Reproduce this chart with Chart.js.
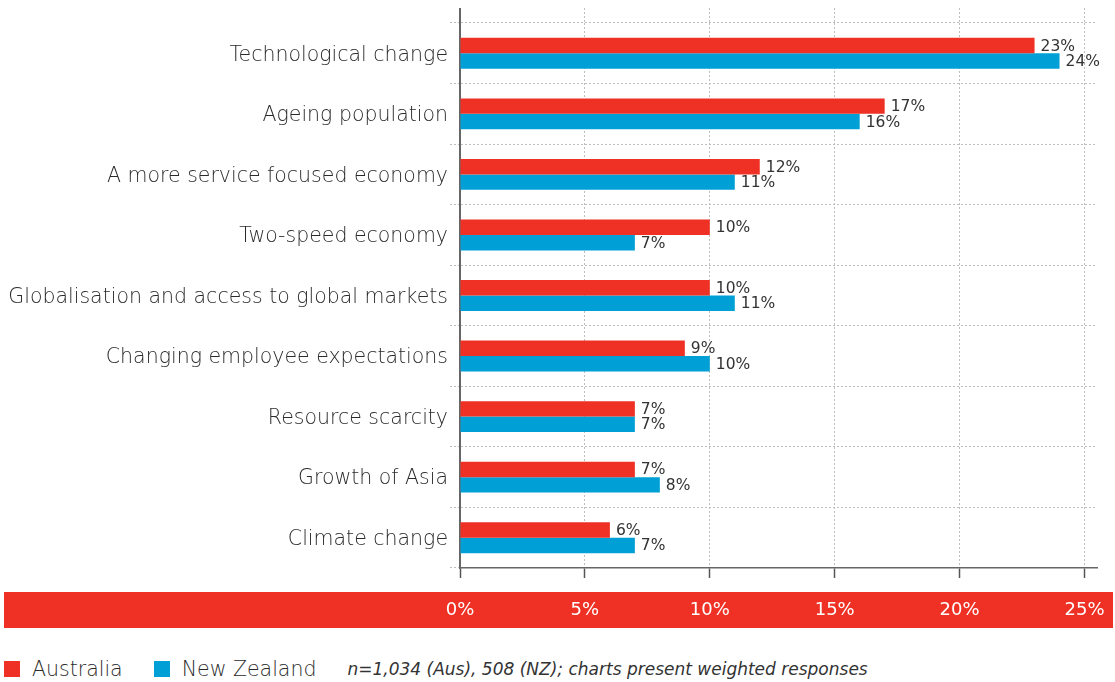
<!DOCTYPE html>
<html>
<head>
<meta charset="utf-8">
<title>Drivers of change</title>
<script src="https://cdn.jsdelivr.net/npm/chart.js@4.4.1/dist/chart.umd.min.js"></script>
<style>
  html, body { margin: 0; padding: 0; background: #fff; }
  #wrap { position: relative; width: 1115px; height: 682px; }
  #legend {
    position: absolute; left: 4px; top: 657px; height: 24px;
    display: flex; align-items: center;
    font-family: "DejaVu Sans", sans-serif; font-weight: 200; font-size: 20.5px; color: #2a2a2a;
  }
  #legend .item { display: flex; align-items: center; margin-right: 31px; }
  #legend .swatch { width: 16px; height: 16px; margin-right: 12px; }
  #legend .note { font-size: 17px; font-style: italic; color: #333; }
</style>
</head>
<body>
<div id="wrap">
  <canvas id="driversChart" width="1115" height="640"></canvas>
  <div id="legend"></div>
</div>
<script>
const categories = [
  'Technological change',
  'Ageing population',
  'A more service focused economy',
  'Two-speed economy',
  'Globalisation and access to global markets',
  'Changing employee expectations',
  'Resource scarcity',
  'Growth of Asia',
  'Climate change'
];
const australia = [23, 17, 12, 10, 10, 9, 7, 7, 6];
const newZealand = [24, 16, 11, 7, 11, 10, 7, 8, 7];
const seriesNames = ['Australia', 'New Zealand'];
const tickValues = [0, 5, 10, 15, 20, 25];
const footnote = 'n=1,034 (Aus), 508 (NZ); charts present weighted responses';

const FONT = '"DejaVu Sans", sans-serif';
const RED = '#ee3124';
const BLUE = '#00a0d6';
const GRID = '#bdbdbd';

// red strip behind the percentage labels
const tickBand = {
  id: 'tickBand',
  beforeDraw(chart) {
    const ctx = chart.ctx;
    const x = chart.scales.x;
    ctx.save();
    ctx.fillStyle = RED;
    ctx.fillRect(4, x.bottom - 36, chart.width - 6, 36);
    ctx.restore();
  }
};

// value text at the end of every bar
const valueLabels = {
  id: 'valueLabels',
  afterDatasetsDraw(chart) {
    const ctx = chart.ctx;
    ctx.save();
    ctx.font = '15.5px ' + FONT;
    ctx.fillStyle = '#333';
    ctx.textAlign = 'left';
    ctx.textBaseline = 'middle';
    chart.data.datasets.forEach((ds, i) => {
      chart.getDatasetMeta(i).data.forEach((bar, j) => {
        ctx.fillText(ds.data[j] + '%', bar.x + 6, bar.y + 1);
      });
    });
    ctx.restore();
  }
};

// the left axis runs up past the first gridline
const axisTop = {
  id: 'axisTop',
  afterDraw(chart) {
    const ctx = chart.ctx;
    const px = Math.round(chart.scales.x.getPixelForValue(0));
    ctx.save();
    ctx.strokeStyle = '#666';
    ctx.lineWidth = 2;
    ctx.beginPath();
    ctx.moveTo(px, chart.scales.x2.top);
    ctx.lineTo(px, chart.chartArea.top);
    ctx.stroke();
    ctx.restore();
  }
};

const fixedTicks = scale => { scale.ticks = tickValues.map(v => ({ value: v })); };

const chart = new Chart(document.getElementById('driversChart'), {
  type: 'bar',
  data: {
    labels: categories,
    datasets: [
      { label: seriesNames[0], data: australia, backgroundColor: RED },
      { label: seriesNames[1], data: newZealand, backgroundColor: BLUE }
    ]
  },
  options: {
    indexAxis: 'y',
    responsive: false,
    animation: false,
    devicePixelRatio: 1,
    barPercentage: 1,
    categoryPercentage: 0.51,
    layout: { padding: { top: 8, left: 4, right: 18, bottom: 12 } },
    plugins: {
      legend: { display: false },
      tooltip: { enabled: false }
    },
    scales: {
      x: {
        type: 'linear',
        position: 'bottom',
        min: 0,
        max: 25.5,
        afterBuildTicks: fixedTicks,
        afterFit: s => { s.height = 60; s.paddingLeft = 0; s.paddingRight = 0; },
        grid: { color: GRID, lineWidth: 1, tickColor: '#555', tickLength: 10, tickWidth: 1.5 },
        border: { color: '#666', width: 1.5, dash: [2, 2] },
        ticks: {
          padding: 22,
          color: '#fff',
          font: { family: FONT, size: 18, weight: 'normal' },
          callback: v => v + '%'
        }
      },
      x2: {
        type: 'linear',
        position: 'top',
        min: 0,
        max: 25.5,
        afterBuildTicks: fixedTicks,
        afterFit: s => { s.height = 15; s.paddingLeft = 0; s.paddingRight = 0; },
        grid: { drawOnChartArea: false, color: GRID, tickLength: 15, tickBorderDash: [2, 2] },
        border: { display: false },
        ticks: { display: false }
      },
      y: {
        afterFit: s => { s.width = 456; },
        grid: { offset: true, color: GRID, tickLength: 10, tickBorderDash: [2, 2] },
        border: { color: '#666', width: 2, dash: [2, 2] },
        ticks: {
          padding: 2,
          labelOffset: 2,
          color: '#2a2a2a',
          font: { family: FONT, size: 20.5, weight: '200' }
        }
      }
    }
  },
  plugins: [tickBand, valueLabels, axisTop]
});

// legend row built from the datasets, followed by the sample note
const legend = document.getElementById('legend');
chart.data.datasets.forEach(ds => {
  const item = document.createElement('span');
  item.className = 'item';
  const sw = document.createElement('span');
  sw.className = 'swatch';
  sw.style.background = ds.backgroundColor;
  item.appendChild(sw);
  item.appendChild(document.createTextNode(ds.label));
  legend.appendChild(item);
});
const note = document.createElement('span');
note.className = 'note';
note.textContent = footnote;
legend.appendChild(note);
</script>
</body>
</html>
